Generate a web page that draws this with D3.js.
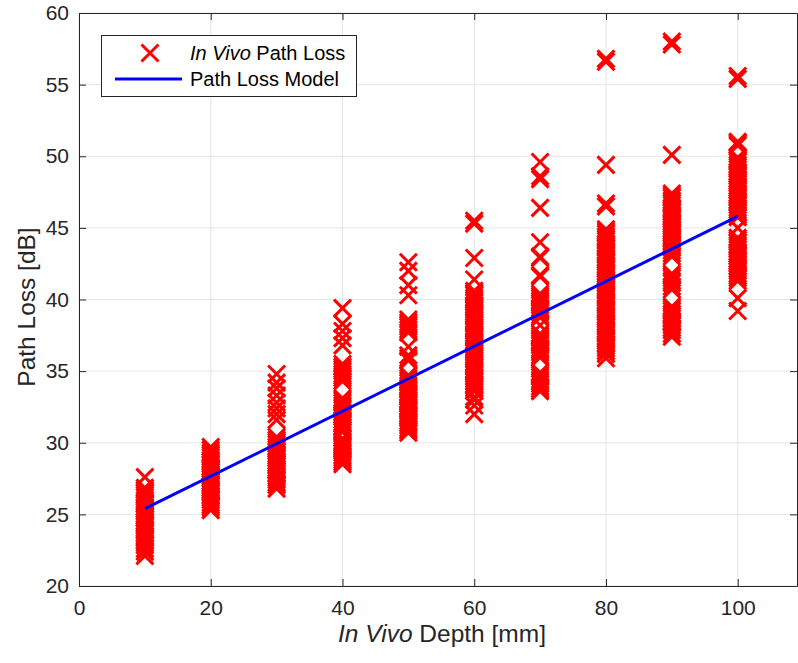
<!doctype html>
<meta charset="utf-8">
<body style="margin:0;background:#fff">
<script src="https://d3js.org/d3.v7.min.js"></script>
<script>
var depths = [10, 20, 30, 40, 50, 60, 70, 80, 90, 100];
var loss10 = [27.6, 26.85, 26.7, 26.5, 26.35, 26.2, 26.0, 25.85, 25.7, 25.5, 25.35, 25.2, 25.0, 24.85, 24.7, 24.5, 24.35, 24.2, 24.0, 23.85, 23.7, 23.5, 23.35, 23.2, 23.0, 22.85, 22.6, 22.4, 22.1];
var loss20 = [29.7, 29.5, 29.3, 29.15, 29.0, 28.8, 28.65, 28.5, 28.3, 28.15, 28.0, 27.8, 27.65, 27.5, 27.3, 27.15, 27.0, 26.8, 26.65, 26.5, 26.3, 26.15, 26.0, 25.8, 25.65, 25.5, 25.3];
var loss30 = [34.8, 34.2, 33.8, 33.3, 32.8, 32.4, 32.0, 31.6, 30.4, 30.2, 30.05, 29.9, 29.7, 29.55, 29.4, 29.2, 29.05, 28.9, 28.7, 28.55, 28.4, 28.2, 28.05, 27.9, 27.7, 27.55, 27.4, 27.2, 27.05, 26.8];
var loss40 = [39.4, 38.3, 37.8, 37.3, 36.8, 35.5, 35.3, 35.15, 35.0, 34.8, 34.65, 34.5, 34.3, 33.1, 32.95, 32.8, 32.6, 32.45, 32.3, 32.1, 31.95, 31.8, 31.6, 31.45, 31.3, 31.1, 30.9, 30.75, 30.3, 30.1, 29.95, 29.8, 29.6, 29.45, 29.3, 29.1, 28.95, 28.8, 28.65, 28.5];
var loss50 = [42.6, 42.0, 41.0, 40.3, 38.6, 38.4, 38.25, 38.1, 37.9, 37.7, 36.7, 36.1, 35.9, 35.75, 34.7, 34.5, 34.35, 34.2, 34.0, 33.85, 33.7, 33.5, 33.35, 33.2, 33.0, 32.85, 32.7, 32.5, 32.35, 32.2, 32.0, 31.85, 31.7, 31.5, 31.35, 31.2, 31.0, 30.85, 30.7];
var loss60 = [45.5, 45.3, 42.9, 41.4, 40.6, 40.45, 40.3, 40.1, 39.95, 39.8, 39.6, 39.45, 39.3, 39.1, 38.95, 38.8, 38.6, 38.45, 38.3, 38.1, 37.95, 37.8, 37.6, 37.45, 37.3, 37.1, 36.95, 36.8, 36.6, 36.45, 36.3, 36.1, 35.95, 35.8, 35.6, 35.45, 35.3, 35.1, 34.95, 34.8, 34.6, 34.45, 34.3, 34.1, 33.95, 33.8, 33.6, 33.2, 33.0, 32.6, 32.0];
var loss70 = [49.6, 48.6, 48.4, 46.4, 44.0, 43.0, 42.9, 41.7, 41.6, 40.4, 40.25, 40.1, 39.9, 39.75, 39.6, 39.4, 39.25, 39.1, 38.9, 38.75, 38.2, 37.6, 37.45, 37.3, 37.1, 36.95, 36.8, 36.6, 36.45, 36.3, 36.1, 35.95, 34.9, 34.75, 34.6, 34.4, 34.25, 34.1, 33.9, 33.75, 33.6];
var loss80 = [56.8, 56.6, 49.4, 46.7, 46.5, 44.9, 44.75, 44.6, 44.4, 44.25, 44.1, 43.9, 43.75, 43.6, 43.4, 43.25, 43.1, 42.9, 42.75, 42.6, 42.4, 42.25, 42.1, 41.9, 41.75, 41.6, 41.4, 41.25, 41.1, 40.9, 40.75, 40.6, 40.4, 40.25, 40.1, 39.9, 39.75, 39.6, 39.4, 39.25, 39.1, 38.9, 38.75, 38.6, 38.4, 38.25, 38.1, 37.9, 37.75, 37.6, 37.4, 37.25, 37.1, 36.9, 36.75, 36.6, 36.4, 36.2, 35.9];
var loss90 = [58.0, 57.8, 50.1, 47.4, 47.25, 47.1, 46.9, 46.75, 46.6, 46.4, 46.25, 46.1, 45.9, 45.75, 45.6, 45.4, 45.25, 45.1, 44.9, 44.75, 44.6, 44.4, 44.25, 44.1, 43.9, 43.75, 43.6, 43.4, 43.2, 43.0, 41.8, 41.65, 41.5, 41.3, 41.15, 40.9, 40.7, 39.5, 39.35, 39.2, 39.0, 38.85, 38.7, 38.5, 38.35, 38.2, 38.0, 37.85, 37.6, 37.4];
var loss100 = [55.6, 55.4, 51.0, 50.9, 50.75, 49.9, 49.75, 49.6, 49.4, 49.25, 49.1, 48.9, 48.75, 48.6, 48.4, 48.25, 48.1, 47.9, 47.75, 47.6, 47.4, 47.25, 47.1, 46.9, 46.75, 46.6, 46.4, 46.25, 46.1, 45.9, 45.75, 45.0, 44.3, 44.15, 44.0, 43.8, 43.65, 43.5, 43.3, 43.15, 43.0, 42.8, 42.65, 42.5, 42.3, 42.15, 42.0, 41.8, 41.65, 41.5, 41.3, 40.1, 39.2];
var lossByDepth = [loss10, loss20, loss30, loss40, loss50, loss60, loss70, loss80, loss90, loss100];

// fitted model line end points
var modelDepth = [10, 100];
var modelLoss = [25.4, 45.8];

var xTicks = [0, 20, 40, 60, 80, 100];
var yTicks = [20, 25, 30, 35, 40, 45, 50, 55, 60];

var W = 798, H = 663;
var pL = 79, pR = 797, pT = 13, pB = 586;
var axisCol = "#262626";

var svg = d3.select("body").append("svg")
    .attr("width", W)
    .attr("height", H)
    .style("font-family", "'Liberation Sans', Arial, Helvetica, sans-serif");

var x = d3.scaleLinear().domain([0, 109]).range([pL, pR]);
var y = d3.scaleLinear().domain([20, 60]).range([pB, pT]);

// grid
svg.append("g").selectAll("line").data(xTicks).enter().append("line")
    .attr("x1", d => x(d)).attr("x2", d => x(d))
    .attr("y1", pT).attr("y2", pB)
    .attr("stroke", "#e6e6e6").attr("stroke-width", 1);
svg.append("g").selectAll("line").data(yTicks).enter().append("line")
    .attr("y1", d => y(d)).attr("y2", d => y(d))
    .attr("x1", pL).attr("x2", pR)
    .attr("stroke", "#e6e6e6").attr("stroke-width", 1);

// points
var pts = [];
depths.forEach(function(d, i) {
  lossByDepth[i].forEach(function(v) { pts.push({d: d, v: v}); });
});
var s = 8.5;
function cross(cx, cy) {
  return "M" + (cx - s) + "," + (cy - s) + "L" + (cx + s) + "," + (cy + s) +
         "M" + (cx - s) + "," + (cy + s) + "L" + (cx + s) + "," + (cy - s);
}
svg.append("g").selectAll("path").data(pts).enter().append("path")
    .attr("d", p => cross(x(p.d), y(p.v)))
    .attr("stroke", "#ff0000").attr("stroke-width", 3).attr("fill", "none");

// model line
svg.append("path")
    .datum(modelDepth.map((d, i) => [d, modelLoss[i]]))
    .attr("d", d3.line().x(d => x(d[0])).y(d => y(d[1])))
    .attr("stroke", "#0000ff").attr("stroke-width", 3).attr("fill", "none");

// axes with inward ticks on all sides
var tl = 7;
var gx = svg.append("g").attr("transform", "translate(0," + pB + ")")
    .call(d3.axisBottom(x).tickValues(xTicks).tickSizeInner(-tl).tickSizeOuter(0).tickPadding(14));
var gy = svg.append("g").attr("transform", "translate(" + pL + ",0)")
    .call(d3.axisLeft(y).tickValues(yTicks).tickSizeInner(-tl).tickSizeOuter(0).tickPadding(10));
var gt = svg.append("g").attr("transform", "translate(0," + pT + ")")
    .call(d3.axisTop(x).tickValues(xTicks).tickSizeInner(-tl).tickSizeOuter(0).tickFormat(""));
var gr = svg.append("g").attr("transform", "translate(" + pR + ",0)")
    .call(d3.axisRight(y).tickValues(yTicks).tickSizeInner(-tl).tickSizeOuter(0).tickFormat(""));
[gx, gy, gt, gr].forEach(function(g) {
  g.select(".domain").attr("stroke", axisCol).attr("stroke-width", 1);
  g.selectAll(".tick line").attr("stroke", axisCol);
  g.selectAll("text").attr("fill", axisCol).style("font-size", "21px").style("font-family", "inherit");
});
gx.selectAll("text").attr("dy", "0.71em");

// axis labels
var xl = svg.append("text")
    .attr("x", 442).attr("y", 642)
    .attr("text-anchor", "middle").attr("fill", axisCol).style("font-size", "24.5px");
xl.append("tspan").style("font-style", "italic").text("In Vivo");
xl.append("tspan").text(" Depth [mm]");

svg.append("text")
    .attr("transform", "translate(35,307) rotate(-90)")
    .attr("text-anchor", "middle").attr("fill", axisCol).style("font-size", "24.5px")
    .text("Path Loss [dB]");

// legend
var lg = svg.append("g");
lg.append("rect").attr("x", 101.5).attr("y", 35.5).attr("width", 255).attr("height", 61)
    .attr("fill", "#fff").attr("stroke", axisCol).attr("stroke-width", 1);
lg.append("path").attr("d", cross(150, 53))
    .attr("stroke", "#ff0000").attr("stroke-width", 3);
lg.append("line").attr("x1", 115).attr("x2", 182).attr("y1", 79).attr("y2", 79)
    .attr("stroke", "#0000ff").attr("stroke-width", 3);
var t1 = lg.append("text").attr("x", 190).attr("y", 60).attr("fill", "#000").style("font-size", "20px");
t1.append("tspan").style("font-style", "italic").text("In Vivo");
t1.append("tspan").text(" Path Loss");
lg.append("text").attr("x", 190).attr("y", 86).attr("fill", "#000").style("font-size", "20px")
    .text("Path Loss Model");
</script>
</body>
